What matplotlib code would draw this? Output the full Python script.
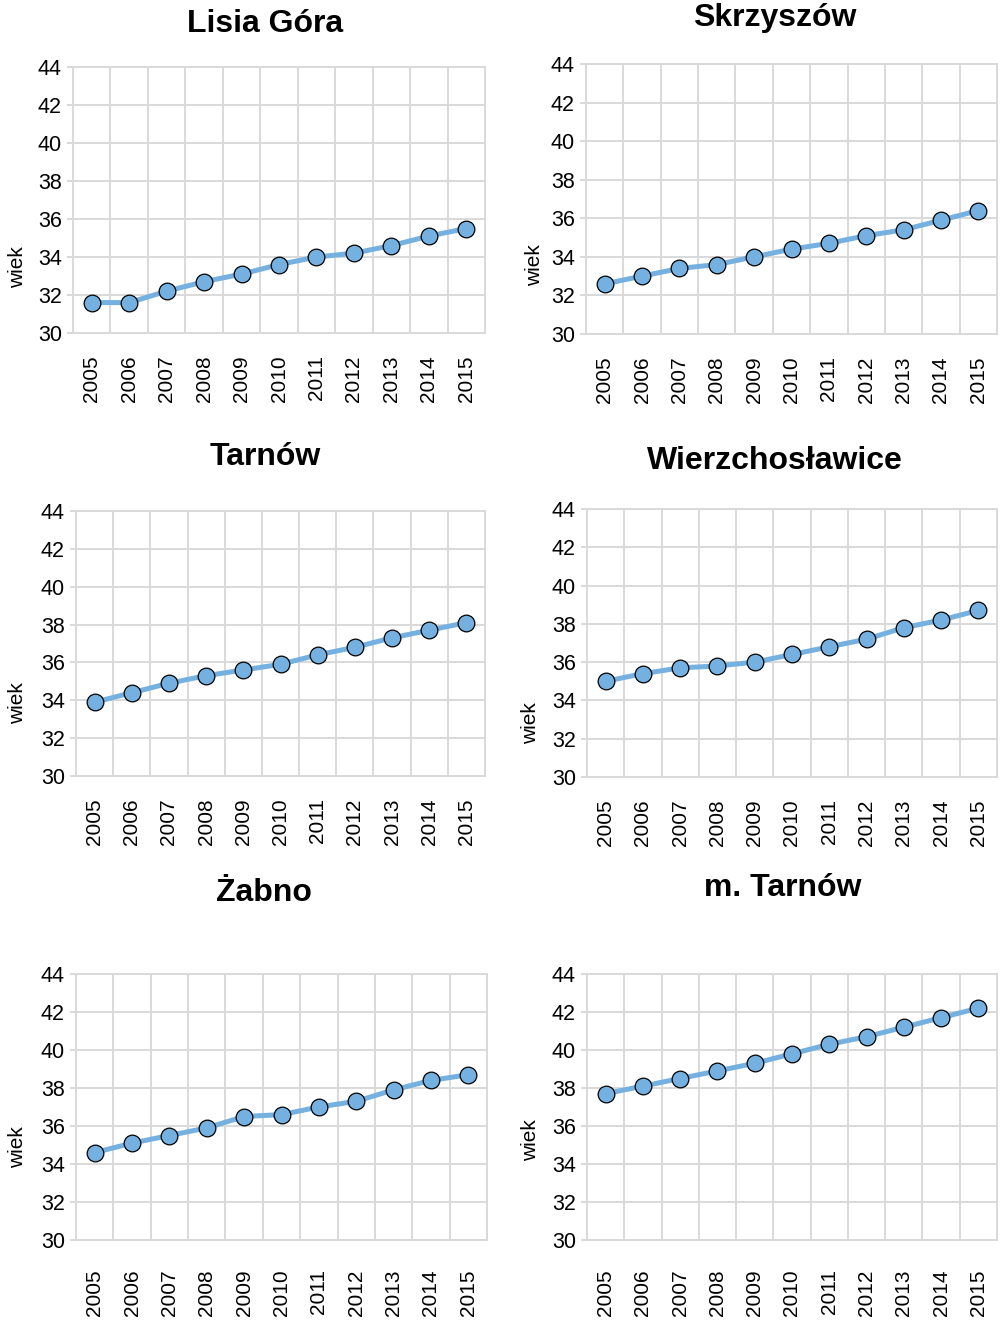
import numpy as np
import matplotlib
matplotlib.use("Agg")
import matplotlib.pyplot as plt

############################################
# DATA
############################################

years = ["2005", "2006", "2007", "2008", "2009", "2010",
         "2011", "2012", "2013", "2014", "2015"]

titles = ["Lisia Góra", "Skrzyszów", "Tarnów",
          "Wierzchosławice", "Żabno", "m. Tarnów"]

lisia_gora = [31.6, 31.6, 32.2, 32.7, 33.1, 33.6, 34.0, 34.2, 34.6, 35.1, 35.5]
skrzyszow = [32.6, 33.0, 33.4, 33.6, 34.0, 34.4, 34.7, 35.1, 35.4, 35.9, 36.4]
tarnow = [33.9, 34.4, 34.9, 35.3, 35.6, 35.9, 36.4, 36.8, 37.3, 37.7, 38.1]
wierzchoslawice = [35.0, 35.4, 35.7, 35.8, 36.0, 36.4, 36.8, 37.2, 37.8, 38.2, 38.7]
zabno = [34.6, 35.1, 35.5, 35.9, 36.5, 36.6, 37.0, 37.3, 37.9, 38.4, 38.7]
m_tarnow = [37.7, 38.1, 38.5, 38.9, 39.3, 39.8, 40.3, 40.7, 41.2, 41.7, 42.2]

series = [lisia_gora, skrzyszow, tarnow, wierzchoslawice, zabno, m_tarnow]

y_ticks = [30, 32, 34, 36, 38, 40, 42, 44]

############################################
# LAYOUT (pixels)
############################################

W, H = 1001, 1322

# left, right, top, bottom of each plot area
boxes = [
    (73, 485, 67, 333),
    (586, 997, 64, 334),
    (76, 485, 511, 776),
    (587, 997, 509, 777),
    (76, 487, 974, 1240),
    (587, 997, 974, 1240),
]
title_pos = [(265, 24), (775, 18), (265, 457), (775, 461), (264, 893), (783, 888)]
ylab_pos = [(18, 267), (535, 265), (18, 703), (531, 723), (18, 1147), (531, 1140)]
xpad = [16, 16, 16, 16, 21, 21]

GRID = "#d9d9d9"
LINE = "#74b0e0"
FONT = ["Liberation Sans", "DejaVu Sans"]

plt.rcParams["font.family"] = FONT

############################################
# PLOT
############################################

fig = plt.figure(figsize=(W / 100, H / 100), dpi=100)

x = np.arange(len(years))

for i in range(6):
    l, r, t, b = boxes[i]
    ax = fig.add_axes([l / W, 1 - b / H, (r - l) / W, (b - t) / H])

    ax.plot(x, series[i], color=LINE, lw=3.6, zorder=3,
            marker="o", markersize=12, markerfacecolor=LINE,
            markeredgecolor="black", markeredgewidth=0.9)

    ax.set_xlim(-0.5, len(years) - 0.5)
    ax.set_ylim(30, 44)

    ax.set_yticks(y_ticks)
    ax.set_xticks(x)
    ax.set_xticklabels(years, rotation=90)
    ax.set_xticks(np.arange(len(years) + 1) - 0.5, minor=True)

    ax.grid(True, which="major", axis="y", color=GRID, lw=1.4)
    ax.grid(True, which="minor", axis="x", color=GRID, lw=1.4)
    ax.set_axisbelow(True)

    for s in ax.spines.values():
        s.set_color(GRID)
        s.set_linewidth(1.4)

    ax.tick_params(axis="y", length=4, width=1.4, color=GRID, pad=4,
                   labelsize=15.5, labelcolor="black")
    ax.tick_params(axis="x", which="major", length=0, pad=xpad[i],
                   labelsize=15, labelcolor="black")
    ax.tick_params(axis="x", which="minor", length=0)

    fig.text(title_pos[i][0] / W, 1 - title_pos[i][1] / H, titles[i],
             ha="center", va="center", fontsize=23, fontweight="bold")
    fig.text(ylab_pos[i][0] / W, 1 - ylab_pos[i][1] / H, "wiek",
             ha="center", va="center", rotation=90, fontsize=15)

fig.savefig("out.png", dpi=100)
